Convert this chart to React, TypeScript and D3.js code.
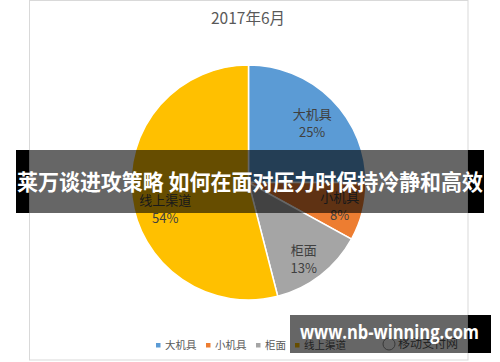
import React from 'react';
import * as d3 from 'd3';

const title = '2017年6月';
const categories = ['大机具', '小机具', '柜面', '线上渠道'];
const values = [25, 8, 13, 54];
const colors = ['#5b9bd5', '#ed7d31', '#a5a5a5', '#ffc000'];
const bannerText = '莱万谈进攻策略 如何在面对压力时保持冷静和高效';
const watermarkText = 'www.nb-winning.com';
const logoText = '移动支付网';

const W = 500;
const H = 362;
const FONT = '"Noto Sans CJK SC", "Noto Sans", sans-serif';

export default function App() {
  const cx = 248.5;
  const cy = 182.5;
  const r = 117.5;
  const pie = d3.pie<number>().sort(null).startAngle(0).endAngle(Math.PI * 2);
  const arcs = pie(values);
  const arc = d3.arc<d3.PieArcDatum<number>>().innerRadius(0).outerRadius(r);
  const labelArc = d3.arc<d3.PieArcDatum<number>>().innerRadius(90).outerRadius(90);
  const total = d3.sum(values);
  // layout nudges for the data labels (best-fit placement)
  const nudge = [[0, 6], [4, 3], [0, 7], [6, 17]];

  const legendX = [158, 208, 258, 297];

  return (
    <svg width={W} height={H} style={{ position: 'absolute', left: 0, top: 0 }} fontFamily={FONT}>
      <rect x={0} y={0} width={W} height={H} fill="#fff" />
      <rect x={29.5} y={0.5} width={438.5} height={359.5} fill="#fff" stroke="#d9d9d9" />
      <text x={248} y={20} textAnchor="middle" dominantBaseline="middle" fontSize={15.5} fill="#595959">
        {title}
      </text>
      <g transform={`translate(${cx},${cy})`}>
        {arcs.map((a, i) => (
          <path key={i} d={arc(a) || ''} fill={colors[i]} stroke="#fff" strokeWidth={1.5} />
        ))}
        {arcs.map((a, i) => {
          const [bx, by] = labelArc.centroid(a);
          const lx = bx + nudge[i][0];
          const ly = by + nudge[i][1];
          return (
            <g key={'l' + i} fill="#404040" fontSize={13} textAnchor="middle">
              <text x={lx} y={ly - 9} dominantBaseline="middle">{categories[i]}</text>
              <text x={lx} y={ly + 9} dominantBaseline="middle">
                {Math.round((values[i] / total) * 100) + '%'}
              </text>
            </g>
          );
        })}
      </g>
      {/* legend */}
      {categories.map((c, i) => (
        <g key={'lg' + i}>
          <rect x={legendX[i] - 2} y={343} width={4.5} height={4.5} fill={colors[i]} />
          <text x={legendX[i] + 7} y={346} dominantBaseline="middle" fontSize={10.5} fill="#595959">
            {c}
          </text>
        </g>
      ))}
      <circle cx={389} cy={344} r={6} fill="none" stroke="#8c8c8c" strokeWidth={1} />
      <text x={398} y={345} dominantBaseline="middle" fontSize={12} fill="#595959">{logoText}</text>

      {/* banner overlay */}
      <rect x={16} y={150} width={13} height={63} fill="#000" />
      <rect x={468} y={150} width={16} height={63} fill="#000" />
      <rect x={29} y={150} width={439} height={63} fill="#000" fillOpacity={0.6} />
      <text
        x={250}
        y={184}
        textAnchor="middle"
        dominantBaseline="middle"
        fontSize={21.5}
        fontWeight="bold"
        fill="#fff"
        textLength={466}
        lengthAdjust="spacingAndGlyphs"
      >
        {bannerText}
      </text>

      {/* watermark */}
      <rect x={290} y={315} width={178} height={38} fill="#000" fillOpacity={0.6} />
      <rect x={468} y={315} width={23} height={38} fill="#000" />
      <text
        x={389.5}
        y={334}
        textAnchor="middle"
        dominantBaseline="middle"
        fontSize={19}
        fontWeight="bold"
        fill="#fff"
        textLength={179}
        lengthAdjust="spacingAndGlyphs"
        fontFamily='"Open Sans", "Noto Sans", sans-serif'
      >
        {watermarkText}
      </text>
    </svg>
  );
}
